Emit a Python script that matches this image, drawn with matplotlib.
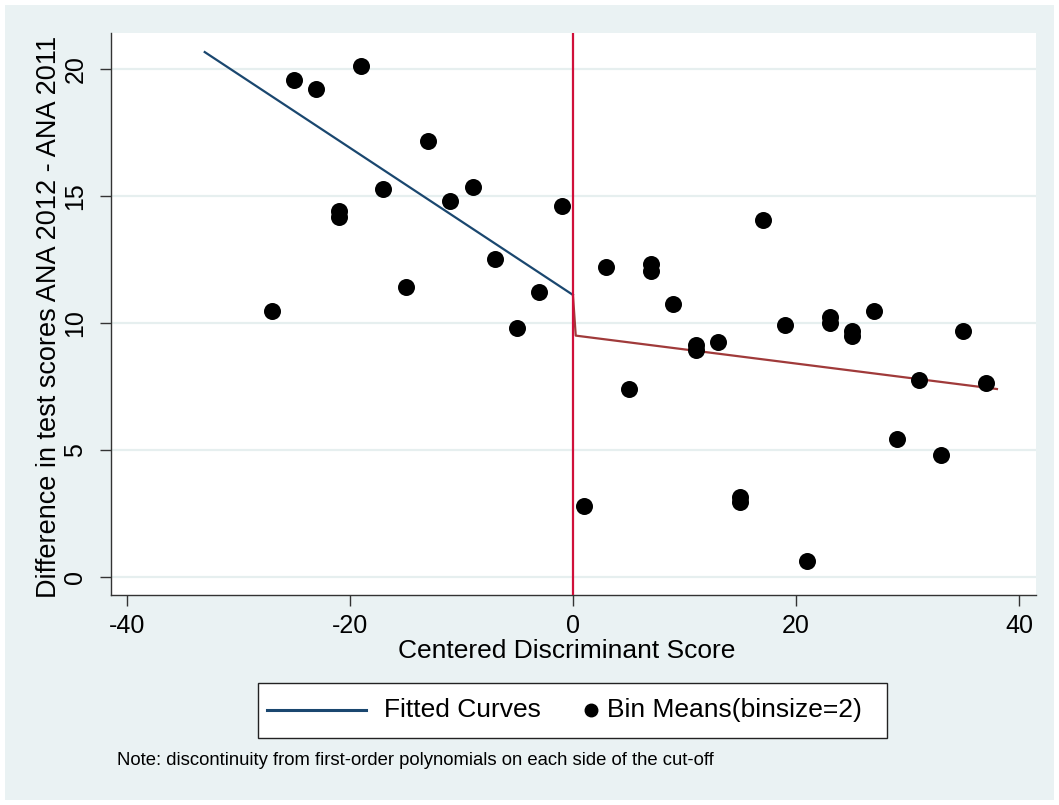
import matplotlib.pyplot as plt
from matplotlib.patches import Rectangle
from matplotlib.lines import Line2D

plt.rcParams['font.family'] = ['Liberation Sans', 'DejaVu Sans']
plt.rcParams['axes.unicode_minus'] = False

# bin means (binsize=2), left and right of the cut-off
bin_x = [-27, -25, -23, -21, -21, -19, -17, -15, -13, -11, -9, -7, -5, -3, -1,
         1, 3, 5, 7, 7, 9, 11, 11, 13, 15, 15, 17, 19, 21, 23, 23, 25, 25,
         27, 29, 31, 33, 35, 37]
bin_y = [10.45, 19.55, 19.2, 14.15, 14.4, 20.1, 15.25, 11.42, 17.15, 14.8, 15.35,
         12.5, 9.8, 11.2, 14.6,
         2.8, 12.2, 7.4, 12.05, 12.3, 10.75, 8.95, 9.15, 9.25, 2.95, 3.15, 14.05,
         9.9, 0.62, 10.0, 10.25, 9.5, 9.7, 10.45, 5.45, 7.75, 4.8, 9.7, 7.62]

# fitted first-order polynomials on each side
left_fit_x = [-33, 0]
left_fit_y = [20.65, 11.1]
right_fit_x = [0, 0.25, 38]
right_fit_y = [11.1, 9.5, 7.4]

ytick_vals = [0, 5, 10, 15, 20]
xtick_vals = [-40, -20, 0, 20, 40]
legend_labels = ['Fitted Curves', 'Bin Means(binsize=2)']

navy = '#1a476f'
maroon = '#a03a3a'
W, H = 1059, 805

def px(x, y):
    return x / W, 1 - y / H

fig = plt.figure(figsize=(W / 100, H / 100), dpi=100)
fig.patch.set_facecolor('white')
fig.add_artist(Rectangle((5 / W, 5 / H), 1 - 10 / W, 1 - 10 / H,
                         transform=fig.transFigure, facecolor='#eaf2f3',
                         edgecolor='none', zorder=-5))

ax = fig.add_axes([111 / W, 1 - 595 / H, (1036 - 111) / W, (595 - 33) / H])
ax.set_zorder(1)
ax.set_facecolor('white')

for v in ytick_vals:
    ax.axhline(v, color='#e6efef', lw=1.6, zorder=1)

ax.plot(left_fit_x, left_fit_y, color=navy, lw=1.6, zorder=3)
ax.plot(right_fit_x, right_fit_y, color=maroon, lw=1.6, zorder=3)
ax.axvline(0, color='#d0103a', lw=1.6, zorder=4)
ax.scatter(bin_x, bin_y, s=150, color='black', zorder=5, linewidths=0)

ax.set_xlim(-41.4, 41.5)
ax.set_ylim(-0.7, 21.4)
ax.set_xticks(xtick_vals)
ax.set_yticks(ytick_vals)
ax.tick_params(axis='both', direction='out', length=8, width=1, color='#333333',
               labelsize=18)
ax.tick_params(axis='x', pad=6)
ax.tick_params(axis='y', labelrotation=90, pad=9)
for lab in ax.get_yticklabels():
    lab.set_va('center')
for s in ['top', 'right']:
    ax.spines[s].set_visible(False)
for s in ['left', 'bottom']:
    ax.spines[s].set_color('#333333')
    ax.spines[s].set_linewidth(1)

ax.set_xlabel('Centered Discriminant Score', fontsize=19)
ax.set_ylabel('Difference in test scores ANA 2012 - ANA 2011', fontsize=19.5)
ax.xaxis.set_label_coords(0.4924, -0.078)
ax.yaxis.set_label_coords(-0.053, 0.494)

# legend box drawn in figure pixels
fig.add_artist(Rectangle(px(258, 738), (887 - 258) / W, (738 - 683) / H,
                         transform=fig.transFigure, facecolor='white',
                         edgecolor='#222222', lw=1, zorder=2))
x0, y0 = px(267, 710)
x1, _ = px(366, 710)
fig.add_artist(Line2D([x0, x1], [y0, y0], transform=fig.transFigure,
                      color=navy, lw=2.2, zorder=3))
mx, my = px(591, 710)
fig.add_artist(Line2D([mx], [my], transform=fig.transFigure, color='black',
                      marker='o', ls='none', markersize=9, zorder=3))
fig.text(*px(384, 710), legend_labels[0], fontsize=19, va='center', ha='left', zorder=3)
fig.text(*px(607, 710), legend_labels[1], fontsize=19, va='center', ha='left', zorder=3)

fig.text(*px(117, 760), 'Note: discontinuity from first-order polynomials on each side of the cut-off',
         fontsize=13.3, va='center', ha='left')

fig.savefig('out.png', dpi=100, facecolor=fig.get_facecolor())
